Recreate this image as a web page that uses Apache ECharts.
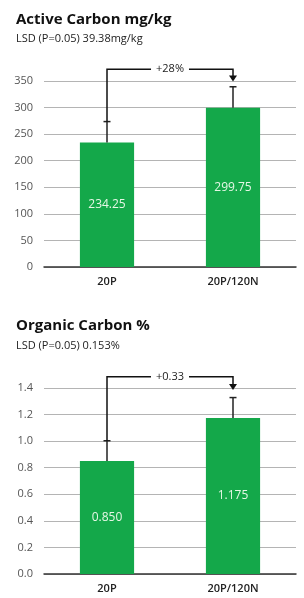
<!DOCTYPE html>
<html>
<head>
<meta charset="utf-8">
<script src="https://cdn.jsdelivr.net/npm/echarts@6/dist/echarts.min.js"></script>
<style>
  html, body { margin: 0; padding: 0; background: #fff; }
  #chart { width: 304px; height: 598px; }
</style>
</head>
<body>
<div id="chart"></div>
<script>
// categories + values
var categories = ['20P', '20P/120N'];
var activeCarbon = [234.25, 299.75];
var organicCarbon = [0.850, 1.175];
// LSD used as error bar length
var activeLsd = 39.38;
var organicLsd = 0.153;
// bracket annotation: label, level of the horizontal line, arrow tip value
var activeBracket = ['+28%', 372, 349];
var organicBracket = ['+0.33', 1.485, 1.385];

var green = '#14a84a';
var font = '"Open Sans", "Noto Sans", sans-serif';

var chart = echarts.init(document.getElementById('chart'));

function yAxisOf(idx, max, interval, digits) {
    return {
        type: 'value',
        gridIndex: idx,
        min: 0,
        max: max,
        interval: interval,
        axisLine: { show: false },
        axisTick: { show: false },
        splitLine: { lineStyle: { color: '#b4b4b4', width: 1 } },
        axisLabel: {
            color: '#555',
            fontSize: 11,
            fontFamily: font,
            margin: 11,
            formatter: function (v) { return v.toFixed(digits); }
        }
    };
}

function xAxisOf(idx) {
    return {
        type: 'category',
        gridIndex: idx,
        data: categories,
        axisTick: { show: false },
        axisLine: { lineStyle: { color: '#333', width: 1.5 } },
        axisLabel: {
            color: '#222',
            fontSize: 11,
            fontWeight: 600,
            fontFamily: font,
            margin: 9
        }
    };
}

function barSeries(idx, values, digits) {
    return {
        type: 'bar',
        xAxisIndex: idx,
        yAxisIndex: idx,
        data: values,
        barWidth: '43%',
        itemStyle: { color: green },
        label: {
            show: true,
            position: 'inside',
            color: '#e6f7e6',
            fontSize: 12,
            fontFamily: font,
            formatter: function (p) { return p.value.toFixed(digits); }
        },
        z: 2
    };
}

function errorSeries(idx, values, err) {
    return {
        type: 'custom',
        xAxisIndex: idx,
        yAxisIndex: idx,
        clip: false,
        z: 3,
        data: values.map(function (v, i) { return [i, v, v + err]; }),
        renderItem: function (params, api) {
            var base = api.coord([api.value(0), api.value(1)]);
            var top = api.coord([api.value(0), api.value(2)]);
            var st = { stroke: '#222', lineWidth: 1.5 };
            return {
                type: 'group',
                children: [
                    { type: 'line', shape: { x1: base[0], y1: base[1], x2: top[0], y2: top[1] }, style: st },
                    { type: 'line', shape: { x1: top[0] - 3.5, y1: top[1], x2: top[0] + 3.5, y2: top[1] }, style: st }
                ]
            };
        }
    };
}

function bracketSeries(idx, values, err, br) {
    return {
        type: 'custom',
        xAxisIndex: idx,
        yAxisIndex: idx,
        clip: false,
        z: 4,
        data: [[0, 1, values[0] + err, br[1], br[2]]],
        renderItem: function (params, api) {
            var start = api.coord([api.value(0), api.value(2)]);
            var left = api.coord([api.value(0), api.value(3)]);
            var right = api.coord([api.value(1), api.value(3)]);
            var tip = api.coord([api.value(1), api.value(4)]);
            var st = { stroke: '#111', lineWidth: 1.5, fill: null };
            return {
                type: 'group',
                children: [
                    { type: 'polyline', shape: { points: [start, left, right, [tip[0], tip[1] - 5]] }, style: st },
                    { type: 'polygon', shape: { points: [[tip[0] - 4, tip[1] - 6], [tip[0] + 4, tip[1] - 6], [tip[0], tip[1]]] }, style: { fill: '#111' } },
                    {
                        type: 'text',
                        x: (left[0] + right[0]) / 2,
                        y: left[1],
                        style: {
                            text: br[0],
                            fill: '#222',
                            fontSize: 11,
                            fontFamily: font,
                            align: 'center',
                            verticalAlign: 'middle',
                            backgroundColor: '#fff',
                            padding: [1, 5]
                        }
                    }
                ]
            };
        }
    };
}

var option = {
    animation: false,
    title: [
        { text: 'Active Carbon mg/kg', left: 11, top: 7, textStyle: { fontSize: 15, fontWeight: 'bold', color: '#111', fontFamily: font } },
        { text: 'LSD (P=0.05) 39.38mg/kg', left: 11, top: 28, textStyle: { fontSize: 11, fontWeight: 'normal', color: '#222', fontFamily: font } },
        { text: 'Organic Carbon %', left: 11, top: 313, textStyle: { fontSize: 15, fontWeight: 'bold', color: '#111', fontFamily: font } },
        { text: 'LSD (P=0.05) 0.153%', left: 11, top: 335, textStyle: { fontSize: 11, fontWeight: 'normal', color: '#222', fontFamily: font } }
    ],
    grid: [
        { left: 44, width: 252, top: 81, height: 186 },
        { left: 44, width: 252, top: 388, height: 186 }
    ],
    xAxis: [xAxisOf(0), xAxisOf(1)],
    yAxis: [yAxisOf(0, 350, 50, 0), yAxisOf(1, 1.4, 0.2, 1)],
    series: [
        barSeries(0, activeCarbon, 2),
        errorSeries(0, activeCarbon, activeLsd),
        bracketSeries(0, activeCarbon, activeLsd, activeBracket),
        barSeries(1, organicCarbon, 3),
        errorSeries(1, organicCarbon, organicLsd),
        bracketSeries(1, organicCarbon, organicLsd, organicBracket)
    ]
};

chart.setOption(option);
</script>
</body>
</html>
